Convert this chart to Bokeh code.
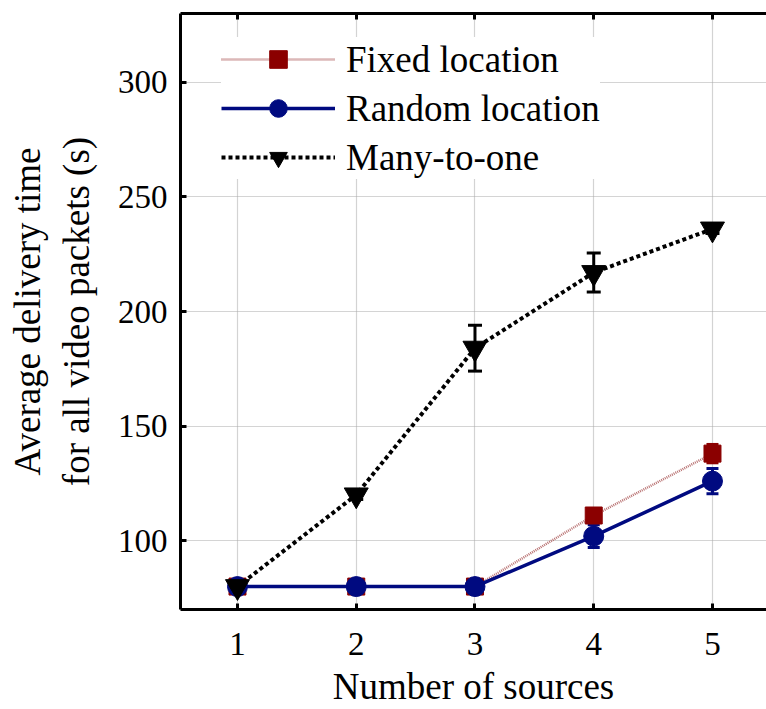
from bokeh.plotting import figure
from bokeh.models import (ColumnDataSource, Whisker, TeeHead, LinearAxis, Range1d,
                          FixedTicker, Legend, LegendItem)
from bokeh.embed import file_html
from bokeh.resources import INLINE

# ---------------- data ----------------
sources = [1, 2, 3, 4, 5]
fixed_vals = [80, 80, 80, 111, 138]
fixed_err = [0, 0, 0, 3, 4]
random_vals = [80, 80, 80, 102, 126]
random_err = [0, 0, 0, 5, 5.5]
many_vals = [80, 120, 184, 217, 236]
many_err = [0, 2, 10, 8.5, 2]

x_ticks = [1, 2, 3, 4, 5]
y_ticks = [100, 150, 200, 250, 300]
series_names = ["Fixed location", "Random location", "Many-to-one"]

FONT = "'Liberation Serif', 'Times New Roman', serif"

p = figure(width=766, height=709, output_backend="svg", toolbar_location=None,
           x_range=Range1d(0.52, 5.455), y_range=Range1d(70, 330),
           min_border_left=180, min_border_right=0, min_border_top=13,
           min_border_bottom=99, outline_line_color=None)
p.background_fill_color = "white"
p.border_fill_color = "white"

# axes
for ax in (p.xaxis[0], p.yaxis[0]):
    ax.axis_line_width = 3
    ax.axis_line_color = "black"
    ax.major_tick_in = 6
    ax.major_tick_out = 0
    ax.major_tick_line_width = 3
    ax.minor_tick_line_color = None
    ax.major_label_text_font = FONT
    ax.major_label_text_font_size = "33px"
    ax.major_label_text_color = "black"
    ax.axis_label_text_font = FONT
    ax.axis_label_text_font_style = "normal"
    ax.axis_label_text_font_size = "37px"
    ax.axis_label_text_color = "black"

p.xaxis.ticker = FixedTicker(ticks=x_ticks)
p.yaxis.ticker = FixedTicker(ticks=y_ticks)
p.xaxis.axis_label = "Number of sources"
p.yaxis.axis_label = "Average delivery time\nfor all video packets (s)"
p.xaxis.major_label_standoff = 23
p.xaxis.axis_label_standoff = 8
p.yaxis.major_label_standoff = 13
p.yaxis.axis_label_standoff = 18

top = LinearAxis(ticker=FixedTicker(ticks=x_ticks), axis_line_width=3,
                 major_tick_in=6, major_tick_out=0, major_tick_line_width=3,
                 minor_tick_line_color=None, major_label_text_font_size="1px",
                 major_label_text_color=None, major_label_standoff=0)
p.add_layout(top, "above")

# grid
for g in (p.xgrid[0], p.ygrid[0]):
    g.grid_line_color = "#a8a8a8"
    g.grid_line_dash = "1 1"
    g.grid_line_width = 1.2
p.xgrid.ticker = FixedTicker(ticks=x_ticks)
p.ygrid.ticker = FixedTicker(ticks=y_ticks)

def src(vals, err):
    return ColumnDataSource(dict(x=sources, y=vals,
                                 lo=[v - e for v, e in zip(vals, err)],
                                 hi=[v + e for v, e in zip(vals, err)]))

s_fixed = src(fixed_vals, fixed_err)
s_rand = src(random_vals, random_err)
s_many = src(many_vals, many_err)

RED = "#8b0000"
RED_LINE = "#b87070"
BLUE = "#000a80"

# Fixed location
l1 = p.line("x", "y", source=s_fixed, line_color=RED_LINE, line_width=2.5, line_dash="1 1")
w1 = Whisker(source=s_fixed, base="x", lower="lo", upper="hi", dimension="height",
             line_color=RED, line_width=3,
             upper_head=TeeHead(size=12, line_color=RED, line_width=3),
             lower_head=TeeHead(size=12, line_color=RED, line_width=3))
p.add_layout(w1)
m1 = p.scatter("x", "y", source=s_fixed, marker="square", size=17,
               fill_color=RED, line_color=RED)

# Random location
l2 = p.line("x", "y", source=s_rand, line_color=BLUE, line_width=3.5)
w2 = Whisker(source=s_rand, base="x", lower="lo", upper="hi", dimension="height",
             line_color=BLUE, line_width=3,
             upper_head=TeeHead(size=12, line_color=BLUE, line_width=3),
             lower_head=TeeHead(size=12, line_color=BLUE, line_width=3))
p.add_layout(w2)
m2 = p.scatter("x", "y", source=s_rand, marker="circle", size=20,
               fill_color=BLUE, line_color=BLUE)

# Many-to-one
l3 = p.line("x", "y", source=s_many, line_color="black", line_width=4, line_dash="4 3")
w3 = Whisker(source=s_many, base="x", lower="lo", upper="hi", dimension="height",
             line_color="black", line_width=3,
             upper_head=TeeHead(size=14, line_color="black", line_width=3),
             lower_head=TeeHead(size=14, line_color="black", line_width=3))
p.add_layout(w3)
m3 = p.scatter("x", "y", source=s_many, marker="inverted_triangle", size=24,
               fill_color="black", line_color="black")

legend = Legend(items=[
    LegendItem(label=series_names[0], renderers=[l1, m1]),
    LegendItem(label=series_names[1], renderers=[l2, m2]),
    LegendItem(label=series_names[2], renderers=[l3, m3]),
], location=(41, 430))
legend.label_text_font = FONT
legend.label_text_font_size = "37px"
legend.label_text_color = "black"
legend.glyph_width = 114
legend.glyph_height = 44
legend.label_height = 42
legend.spacing = 5
legend.padding = 8
legend.margin = 0
legend.label_standoff = 11
legend.border_line_color = None
legend.background_fill_color = "white"
legend.background_fill_alpha = 1.0
p.add_layout(legend)

open("out.html", "w").write(file_html(p, INLINE))
